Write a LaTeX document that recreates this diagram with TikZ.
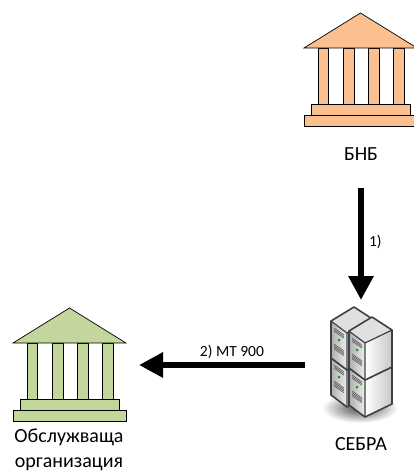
\documentclass[tikz,border=0pt]{standalone}
\usepackage{fontspec}
\setmainfont{Carlito}
\usetikzlibrary{arrows.meta}
\definecolor{orangefill}{HTML}{FAC090}
\definecolor{greenfill}{HTML}{C3D69B}
\definecolor{serveredge}{HTML}{3C4241}
\tikzset{
  bankpart/.style={draw=black,line width=0.7pt,line join=miter},
  flowarrow/.style={line width=6pt,-{Triangle[length=24pt,width=24pt]}},
  caption/.style={font=\fontsize{20}{24}\selectfont,inner sep=0pt,align=center},
  edgelabel/.style={font=\fontsize{15.5}{18}\selectfont,inner sep=0pt},
  pics/bank/.style={code={
      \foreach \cx in {14,39.5,64.5,89.5}
        \draw[bankpart,fill=#1] (\cx,35) rectangle ++(10.5,56);
      \draw[bankpart,fill=#1] (7,91) rectangle (106,102);
      \draw[bankpart,fill=#1] (0,102) rectangle (113,113);
      \draw[bankpart,fill=#1] (0,35) -- (56.5,0) -- (113,35) -- cycle;
  }},
  pics/serverbox/.style={code={
      \fill[black!12] (0,14) -- (23,0) -- (43,13) -- (16,26) -- cycle;
      \shade[left color=white,right color=black!22] (16,26) -- (43,13) -- (43,50) -- (16,63) -- cycle;
      \shade[left color=black!32,right color=black!6] (0,14) -- (16,26) -- (16,63) -- (0,51) -- cycle;
      \draw[serveredge,line width=1.6pt,line join=round]
        (0,14) -- (23,0) -- (43,13) -- (43,50) -- (16,63) -- (0,51) -- cycle;
      \draw[serveredge,line width=1.2pt,line join=round] (0,14) -- (16,26) -- (43,13) (16,26) -- (16,63);
      \foreach \sy in {0,1.6,3.2}
        \draw[black!65,line width=0.6pt] (3,{21+\sy}) -- (13,{28+\sy});
      \foreach \sy in {0,1.6,3.2,4.8}
        \draw[black!65,line width=0.6pt] (3,{37+\sy}) -- (13,{44+\sy});
      \fill[green!65!black] (8,33) circle (1.5);
  }}
}
\begin{document}
\begin{tikzpicture}[x=1pt,y=-1pt]
  \useasboundingbox (0,0) rectangle (414,471);

  \pic at (304,13) {bank=orangefill};
  \pic at (13,308) {bank=greenfill};

  % server stack, back pair first
  \shade[inner color=black!70,outer color=white] (360,408) ellipse (38 and 15);
  \pic at (331,344) {serverbox};
  \pic at (331,307) {serverbox};
  \pic at (349,354) {serverbox};
  \pic at (349,317) {serverbox};

  \coordinate (bnbout) at (361,188);
  \coordinate (sebrain) at (361,300);
  \coordinate (sebraout) at (305,365);
  \coordinate (orgin) at (139,365);

  \node[caption] (bnb) at (361,154) {БНБ};
  \node[caption] (sebra) at (361,444) {СЕБРА};
  \node[caption] (org) at (69,437) {Обслужваща};
  \node[caption] (org2) at (69,464) {организация};

  \draw[flowarrow] (bnbout) -- node[edgelabel,right,xshift=5pt,pos=0.48] (lab1) {1)} (sebrain);
  \draw[flowarrow] (sebraout) -- node[edgelabel,above,yshift=3.5pt,pos=0.44] (lab2) {2) MT 900} (orgin);
\end{tikzpicture}
\end{document}
